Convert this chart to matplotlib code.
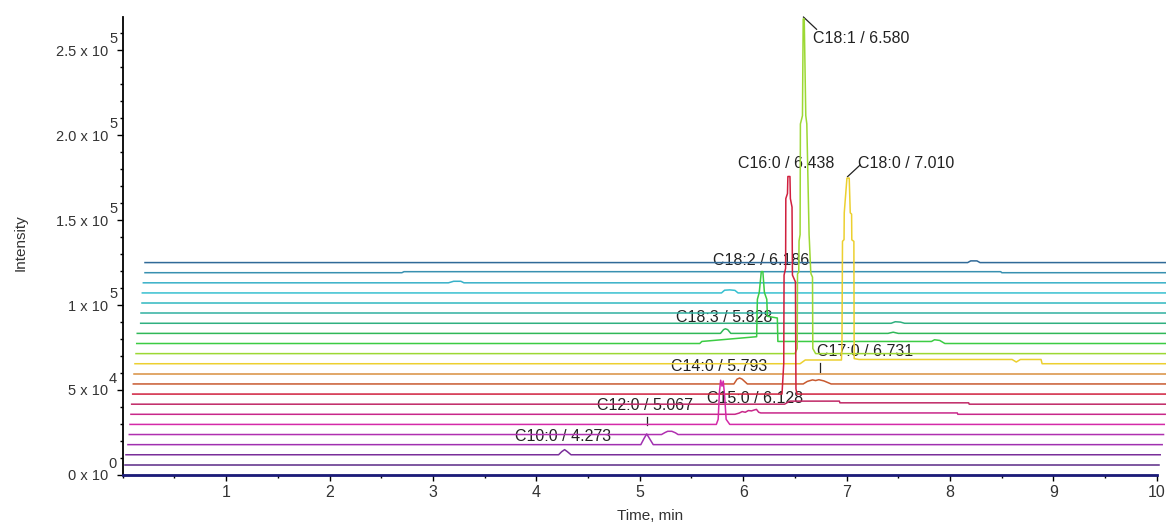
import numpy as np
import matplotlib.pyplot as plt
from matplotlib.ticker import MultipleLocator

plt.rcParams['font.family'] = ['Liberation Sans', 'DejaVu Sans']

###############################################################################
# Stacked chromatogram traces (bottom = 0 ... top = 21)
trace_offset = 5950          # intensity step between stacked traces
trace_start = [0.000, 0.022, 0.032, 0.051, 0.064, 0.071, 0.080, 0.087, 0.097, 0.103, 0.112,
               0.119, 0.129, 0.136, 0.141, 0.174, 0.174, 0.184, 0.190, 0.200, 0.216, 0.216]
run_length = 10.0            # minutes recorded per trace
trace_colors = ['#1c1c7a', '#5a2a86', '#7a2f9a', '#a030b0', '#b030b0', '#d42aa8',
                '#c8288a', '#c02866', '#d0203e', '#c85a30', '#d89040', '#ecd030',
                '#9cd834', '#3ccc44', '#30b858', '#30b080', '#30b0a0', '#30b8c0',
                '#38c0d0', '#38b0c8', '#3890b0', '#306a98']

###############################################################################
# Peak shapes: times (min) and intensity above the trace baseline
c10_t = [4.215, 4.245, 4.273, 4.300, 4.335]
c10_i = [0, 1800, 3000, 1800, 0]

c12_t = [5.010, 5.040, 5.067, 5.095, 5.130]
c12_i = [0, 3500, 6300, 3500, 0]

bump4_t = [5.210, 5.245, 5.270, 5.310, 5.345, 5.370]
bump4_i = [0, 1200, 1900, 1900, 1000, 0]

c14_t = [5.740, 5.758, 5.770, 5.782, 5.795, 5.807, 5.820, 5.835, 5.870]
c14_i = [0, 3000, 19000, 26000, 22500, 25500, 17000, 3000, 0]

c15_t = [5.920, 5.960, 5.990, 6.020, 6.050, 6.080, 6.110, 6.128, 6.150, 6.170, 8.070, 8.075]
c15_i = [0, 700, 1600, 1200, 2200, 2000, 2600, 2900, 1200, 800, 800, 0]

step7_t = [6.400, 6.450, 6.930, 6.935, 8.180, 8.185]
step7_i = [0, 1800, 1800, 800, 800, 0]

c16_t = [6.375, 6.392, 6.395, 6.410, 6.412, 6.428, 6.432, 6.452, 6.456, 6.472,
         6.476, 6.505, 6.510, 6.520]
c16_i = [0, 18000, 70000, 74000, 115000, 118000, 128000, 128000, 115000, 110000,
         70000, 66000, 3000, 0]

c17_t = [5.910, 5.940, 5.965, 5.990, 6.040, 6.580, 6.620, 6.670, 6.700, 6.731, 6.780, 6.850]
c17_i = [0, 2800, 3500, 2800, 0, 0, 1500, 2400, 2000, 2500, 1800, 0]

c180_t = [6.550, 6.600, 6.950, 6.955, 6.960, 6.975, 6.977, 7.003, 7.025, 7.035, 7.048,
          7.050, 7.070, 7.073, 7.120, 8.600, 8.640, 8.680, 8.880, 8.890]
c180_i = [0, 2200, 2200, 13000, 72000, 73000, 88800, 109200, 109200, 88800, 88000,
          72900, 72000, 3000, 2500, 2500, 1000, 2500, 2500, 0]

c181_t = [6.500, 6.522, 6.525, 6.537, 6.540, 6.550, 6.553, 6.573, 6.580, 6.590, 6.605,
          6.615, 6.637, 6.640, 6.653, 6.656, 6.670, 6.673, 6.700]
c181_i = [0, 3000, 46900, 48000, 66300, 70000, 135100, 140000, 196900, 196900, 140000,
          135100, 70000, 66300, 48000, 46900, 45000, 3000, 0]

c182_t = [5.580, 5.600, 6.130, 6.137, 6.155, 6.175, 6.190, 6.205, 6.228, 6.234, 6.330,
          6.335, 7.820, 7.850, 7.900, 7.930, 7.950]
c182_i = [0, 1200, 4000, 26000, 30000, 42300, 42300, 30000, 26000, 16000, 15000,
          1200, 1200, 2200, 1800, 700, 0]

c183_t = [5.780, 5.810, 5.828, 5.850, 5.880, 7.400, 7.450, 7.500]
c183_i = [0, 2200, 2700, 2200, 0, 0, 700, 0]

bump15_t = [7.430, 7.470, 7.520, 7.560]
bump15_i = [0, 900, 700, 0]

bump18_t = [5.790, 5.820, 5.870, 5.920, 5.950]
bump18_i = [0, 1600, 1800, 1500, 0]

bump19_t = [3.150, 3.200, 3.270, 3.300]
bump19_i = [0, 900, 900, 0]

step20_t = [2.700, 2.720, 8.490, 8.500]
step20_i = [0, 600, 600, 0]

bump21_t = [8.170, 8.200, 8.260, 8.290]
bump21_i = [0, 1000, 1000, 0]

trace_shapes = {2: (c10_t, c10_i), 3: (c12_t, c12_i), 4: (bump4_t, bump4_i),
                5: (c14_t, c14_i), 6: (c15_t, c15_i), 7: (step7_t, step7_i),
                8: (c16_t, c16_i), 9: (c17_t, c17_i), 11: (c180_t, c180_i),
                12: (c181_t, c181_i), 13: (c182_t, c182_i), 14: (c183_t, c183_i),
                15: (bump15_t, bump15_i), 18: (bump18_t, bump18_i),
                19: (bump19_t, bump19_i), 20: (step20_t, step20_i),
                21: (bump21_t, bump21_i)}

###############################################################################
# Peak labels (layout)
label_text = ['C10:0 / 4.273', 'C12:0 / 5.067', 'C14:0 / 5.793', 'C15:0 / 6.128',
              'C16:0 / 6.438', 'C17:0 / 6.731', 'C18:0 / 7.010', 'C18:1 / 6.580',
              'C18:2 / 6.186', 'C18:3 / 5.828']
label_x = [4.258, 5.047, 5.771, 6.111, 6.419, 6.718, 7.106, 6.670, 6.170, 5.814]
label_y = [22530, 41170, 63700, 45120, 183350, 72530, 183350, 256750, 126050, 92760]
label_ha = ['center', 'center', 'center', 'center', 'center', 'left', 'left', 'left',
            'center', 'center']
marker_x = [(5.067, 5.067), (6.745, 6.745), (7.009, 7.131), (6.583, 6.709)]
marker_y = [(29400, 34000), (60600, 65900), (175500, 182400), (269400, 262200)]

ytick_vals = [0, 50000, 100000, 150000, 200000, 250000]
ytick_base = ['0 x 10', '5 x 10', '1 x 10', '1.5 x 10', '2.0 x 10', '2.5 x 10']
ytick_exp = ['0', '4', '5', '5', '5', '5']

###############################################################################
fig = plt.figure(figsize=(11.66, 5.27), dpi=100)
ax = fig.add_axes([0.1052, 0.0987, 0.887, 0.8696])

for k in reversed(range(len(trace_colors))):
    t = [trace_start[k]]
    y = [0]
    if k in trace_shapes:
        t += trace_shapes[k][0]
        y += trace_shapes[k][1]
    t.append(trace_start[k] + run_length)
    y.append(0)
    ax.plot(t, np.array(y) + k * trace_offset, color=trace_colors[k],
            lw=2.0 if k == 0 else 1.1, clip_on=False, zorder=3 + (21 - k) * 0.01)

for txt, x, y, ha in zip(label_text, label_x, label_y, label_ha):
    ax.text(x, y, txt, ha=ha, va='center', fontsize=11.5, color='#222222', zorder=1)
for xs, ys in zip(marker_x, marker_y):
    ax.plot(xs, ys, color='#222222', lw=0.9, zorder=1, clip_on=False)

ax.set_xlim(0, 10)
ax.set_ylim(0, 269600)
ax.set_xticks(range(1, 11))
ax.xaxis.set_minor_locator(MultipleLocator(0.5))
ax.set_yticks(ytick_vals)
ax.set_yticklabels(ytick_base)
ax.yaxis.set_minor_locator(MultipleLocator(10000))
for v, e in zip(ytick_vals, ytick_exp):
    ax.annotate(e, xy=(0, v), xycoords=('axes fraction', 'data'), xytext=(-4.0, 3.2),
                textcoords='offset points', ha='right', va='bottom', fontsize=10.5,
                color='#333333')

ax.tick_params(axis='y', which='major', length=4, width=1, pad=6.5, labelsize=10.5,
               labelcolor='#333333')
ax.tick_params(axis='y', which='minor', length=2.5, width=1)
ax.tick_params(axis='x', which='major', length=4.5, width=1, pad=3, labelsize=11.5,
               labelcolor='#333333')
ax.tick_params(axis='x', which='minor', length=2.5, width=1)

for side in ['top', 'right']:
    ax.spines[side].set_visible(False)
ax.spines['left'].set_linewidth(1.3)
ax.spines['bottom'].set_linewidth(1.0)

ax.set_xlabel('Time, min', fontsize=11, color='#333333')
ax.xaxis.set_label_coords(0.51, -0.074)
ax.set_ylabel('Intensity', fontsize=11, color='#333333')
ax.yaxis.set_label_coords(-0.092, 0.508)

fig.savefig('out.png', dpi=100)
